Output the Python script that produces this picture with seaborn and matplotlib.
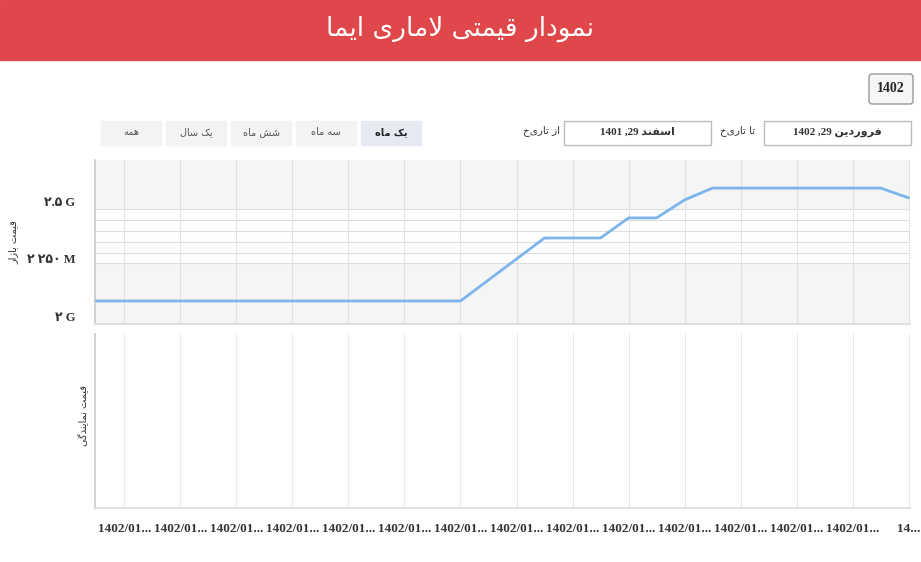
import matplotlib
matplotlib.use("Agg")
import matplotlib.pyplot as plt
import seaborn as sns
import pandas as pd
from matplotlib.patches import Rectangle, FancyBboxPatch

# ---- data ----
days = list(range(30))
price_g = [2.066]*14 + [2.158, 2.25, 2.342, 2.342, 2.342, 2.43, 2.43, 2.509,
                        2.561, 2.561, 2.561, 2.561, 2.561, 2.561, 2.561, 2.518]
tick_days = list(range(1, 30, 2))
tick_labels = ["1402/01..."]*14 + ["14..."]
ytick_vals = [2.0, 2.25, 2.5]
ytick_text = ["۲ G", "۲ ۲۵۰ M", "۲.۵ G"]

# ---- minimal Persian shaping ----
FORMS = {
    'ا': ('\uFE8D', '\uFE8E', None, None), 'ب': ('\uFE8F', '\uFE90', '\uFE91', '\uFE92'),
    'ت': ('\uFE95', '\uFE96', '\uFE97', '\uFE98'), 'د': ('\uFEA9', '\uFEAA', None, None),
    'ر': ('\uFEAD', '\uFEAE', None, None), 'ز': ('\uFEAF', '\uFEB0', None, None),
    'س': ('\uFEB1', '\uFEB2', '\uFEB3', '\uFEB4'), 'ش': ('\uFEB5', '\uFEB6', '\uFEB7', '\uFEB8'),
    'ف': ('\uFED1', '\uFED2', '\uFED3', '\uFED4'), 'ق': ('\uFED5', '\uFED6', '\uFED7', '\uFED8'),
    'ل': ('\uFEDD', '\uFEDE', '\uFEDF', '\uFEE0'), 'م': ('\uFEE1', '\uFEE2', '\uFEE3', '\uFEE4'),
    'ن': ('\uFEE5', '\uFEE6', '\uFEE7', '\uFEE8'), 'ه': ('\uFEE9', '\uFEEA', '\uFEEB', '\uFEEC'),
    'و': ('\uFEED', '\uFEEE', None, None), 'ی': ('\uFBFC', '\uFBFD', '\uFBFE', '\uFBFF'),
    'ک': ('\uFB8E', '\uFB8F', '\uFB90', '\uFB91'), 'گ': ('\uFB92', '\uFB93', '\uFB94', '\uFB95'),
}

def shape_word(w):
    chars = list(w)
    out = []
    i = 0
    n = len(chars)
    def joins_left(c):
        return c in FORMS and FORMS[c][2] is not None
    while i < n:
        c = chars[i]
        prev_join = i > 0 and joins_left(chars[i-1])
        if c == 'ل' and i + 1 < n and chars[i+1] == 'ا':
            out.append('\uFEFC' if prev_join else '\uFEFB')
            i += 2
            continue
        if c not in FORMS:
            out.append(c); i += 1; continue
        iso, fin, ini, med = FORMS[c]
        next_ok = i + 1 < n and chars[i+1] in FORMS and ini is not None
        if prev_join and next_ok:
            out.append(med)
        elif prev_join:
            out.append(fin)
        elif next_ok:
            out.append(ini)
        else:
            out.append(iso)
        i += 1
    return ''.join(reversed(out))

def fa(s):
    return ' '.join(shape_word(w) for w in reversed(s.split(' ')))

FA = ['DejaVu Sans']

sns.set_theme(style="white")
plt.rcParams['font.family'] = ['DejaVu Sans']

W, H = 921, 562
fig = plt.figure(figsize=(9.21, 5.62), dpi=100)
fig.patch.set_facecolor('white')
bg = fig.add_axes([0, 0, 1, 1])
bg.set_xlim(0, W); bg.set_ylim(H, 0); bg.axis('off')

# header
bg.add_patch(Rectangle((0, 0), W, 60, color='#e0474b'))
bg.text(460, 29, fa('نمودار قیمتی لاماری ایما'), color='white', fontsize=19,
        ha='center', va='center', family=FA)

# year button
bg.add_patch(FancyBboxPatch((869, 74), 44, 30, boxstyle='round,pad=0,rounding_size=3',
                            fc='#f6f6f6', ec='#999999', lw=1))
bg.text(891, 89, '1402', fontsize=10, fontweight='bold', ha='center', va='center',
        family=['Liberation Serif'])

# range buttons
btns = [('یک ماه', 361, '#e5e9f1', True), ('سه ماه', 296, '#f3f3f3', False),
        ('شش ماه', 231, '#f3f3f3', False), ('یک سال', 166, '#f3f3f3', False),
        ('همه', 101, '#f3f3f3', False)]
for lab, x0, c, b in btns:
    bg.add_patch(Rectangle((x0, 121), 60, 24, color=c))
    bg.text(x0 + 30, 132, fa(lab), fontsize=7, ha='center', va='center', family=FA,
            fontweight='bold' if b else 'normal', color='#222222' if b else '#555555')

# date boxes
for x0, txt in [(564, '1401 ,29 ' + fa('اسفند')), (764, '1402 ,29 ' + fa('فروردین'))]:
    bg.add_patch(Rectangle((x0, 121), 147, 24, fc='white', ec='#bbbbbb', lw=1))
    bg.text(x0 + 73, 132, txt, fontsize=8, ha='center', va='center', fontweight='bold',
            family=['Liberation Serif', 'DejaVu Sans'], color='#333333')
bg.text(541, 131, fa('از تاریخ'), fontsize=7.5, ha='center', va='center', family=FA, color='#333333')
bg.text(738, 131, fa('تا تاریخ'), fontsize=7.5, ha='center', va='center', family=FA, color='#333333')

# axis titles
bg.text(13, 242, fa('قیمت بازار'), fontsize=7, rotation=90, ha='center', va='center',
        family=FA, color='#333333')
bg.text(84, 415, fa('قیمت نمایندگی'), fontsize=7, rotation=90, ha='center', va='center',
        family=FA, color='#333333')

xlim = (-0.05, 29.05)

# upper panel
ax = fig.add_axes([95/W, 1 - 324/H, 815/W, 164/H])
ax.set_facecolor('#f5f5f5')
ax.axhspan(2.232, 2.469, color='white', zorder=0)
for yv in [2.232, 2.276, 2.325, 2.373, 2.421, 2.469]:
    ax.axhline(yv, color='#dddddd', lw=0.8, zorder=1)
for d in tick_days:
    ax.axvline(d, color='#e2e2e2', lw=0.8, zorder=1)
df = pd.DataFrame({'day': days, 'price': price_g})
sns.lineplot(data=df, x='day', y='price', ax=ax, color='#7cb5ec', lw=2, zorder=3)
ax.set_xlim(*xlim); ax.set_ylim(1.965, 2.684)
ax.set_xticks([]); ax.set_xlabel(''); ax.set_ylabel('')
ax.set_yticks(ytick_vals)
ax.set_yticklabels(ytick_text, family=['Liberation Serif', 'DejaVu Sans'],
                   fontsize=9, fontweight='bold', color='#333333')
ax.tick_params(axis='y', length=0, pad=14)
for s in ['top', 'right']:
    ax.spines[s].set_visible(False)
ax.spines['left'].set_color('#cccccc'); ax.spines['bottom'].set_color('#dddddd')

# lower panel
ax2 = fig.add_axes([95/W, 1 - 508/H, 815/W, 174/H])
ax2.set_facecolor('white')
for d in tick_days:
    ax2.axvline(d, color='#e8e8e8', lw=0.8)
ax2.set_xlim(*xlim); ax2.set_ylim(0, 1)
ax2.set_yticks([])
ax2.set_xticks(tick_days)
ax2.set_xticklabels(tick_labels, family=['Liberation Serif'], fontsize=9.5,
                    fontweight='bold', color='#333333')
ax2.tick_params(axis='x', length=0, pad=11)
for s in ['top', 'right']:
    ax2.spines[s].set_visible(False)
ax2.spines['left'].set_color('#cccccc'); ax2.spines['bottom'].set_color('#dddddd')

fig.savefig('out.png', dpi=100)
